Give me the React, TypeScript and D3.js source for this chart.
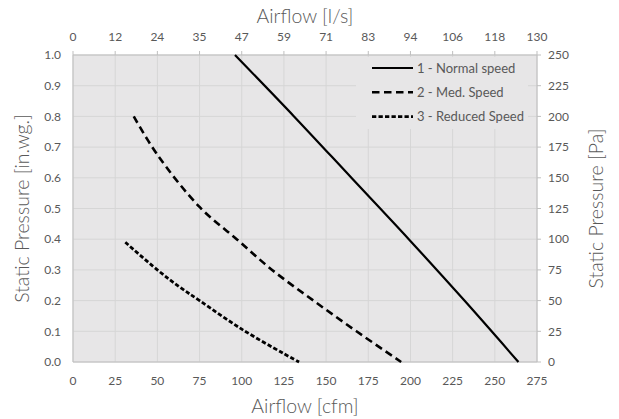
import React from "react";
import * as d3 from "d3";

const cfmTicks = [0, 25, 50, 75, 100, 125, 150, 175, 200, 225, 250, 275];
const lsLabels = ["0", "12", "24", "35", "47", "59", "71", "83", "94", "106", "118", "130"];
const inwgTicks = [0, 0.1, 0.2, 0.3, 0.4, 0.5, 0.6, 0.7, 0.8, 0.9, 1.0];
const paLabels = ["0", "25", "50", "75", "100", "125", "150", "175", "200", "225", "250"];

const normalCfm = [96, 131, 165, 199, 232, 264];
const normalP = [1.0, 0.8, 0.6, 0.4, 0.2, 0.0];
const medCfm = [36, 50, 75, 97, 118, 142.5, 168, 194.5];
const medP = [0.8, 0.675, 0.505, 0.4, 0.3, 0.2, 0.1, 0.0];
const redCfm = [31, 50, 63, 75, 100, 125, 134];
const redP = [0.39, 0.3, 0.245, 0.2, 0.107, 0.027, 0.0];

const seriesNames = ["1 - Normal speed", "2 - Med. Speed", "3 - Reduced Speed"];
const dashes = ["none", "7.5,4.5", "4.3,2.2"];

const W = 619, H = 419;
const L = 73, R = 537, T = 55, B = 362;
const font = "Lato, 'Open Sans', sans-serif";
const grey = "#595959";

export default function App() {
  const x = d3.scaleLinear().domain([0, 275]).range([L, R]);
  const y = d3.scaleLinear().domain([0, 1]).range([B, T]);
  const line = d3.line<[number, number]>().x(d => x(d[0])).y(d => y(d[1])).curve(d3.curveCatmullRom.alpha(0.5));
  const series = [
    d3.zip(normalCfm, normalP) as [number, number][],
    d3.zip(medCfm, medP) as [number, number][],
    d3.zip(redCfm, redP) as [number, number][],
  ];
  const widths = [2.2, 2.6, 2.8];
  return (
    <svg width={W} height={H} style={{ position: "absolute", left: 0, top: 0, background: "#fff" }} fontFamily={font}>
      <rect x={L} y={T} width={R - L} height={B - T} fill="#e7e6e7" />
      {cfmTicks.map(t => (
        <line key={"gx" + t} x1={x(t)} x2={x(t)} y1={T} y2={B} stroke="#d6d6d6" strokeWidth={1} />
      ))}
      {inwgTicks.map(t => (
        <line key={"gy" + t} x1={L} x2={R} y1={y(t)} y2={y(t)} stroke="#d6d6d6" strokeWidth={1} />
      ))}
      <line x1={L} x2={L} y1={T} y2={B} stroke="#bfbfbf" />
      <line x1={L} x2={R} y1={B} y2={B} stroke="#bfbfbf" />
      <line x1={L} x2={R} y1={T} y2={T} stroke="#bfbfbf" />
      <line x1={R} x2={R} y1={T} y2={B} stroke="#bfbfbf" />
      {cfmTicks.map(t => (
        <line key={"tt" + t} x1={x(t)} x2={x(t)} y1={T - 4} y2={T} stroke="#bfbfbf" />
      ))}
      {inwgTicks.map(t => (
        <line key={"rt" + t} x1={R} x2={R + 4} y1={y(t)} y2={y(t)} stroke="#bfbfbf" />
      ))}
      <rect x={356} y={57} width={172} height={72} fill="#e7e6e7" />
      {series.map((s, i) => (
        <path key={"s" + i} d={line(s) || ""} fill="none" stroke="#000" strokeWidth={widths[i]} strokeDasharray={dashes[i]} />
      ))}
      {seriesNames.map((n, i) => (
        <g key={"lg" + i}>
          <line x1={372} x2={413} y1={68 + i * 24.3} y2={68 + i * 24.3} stroke="#000" strokeWidth={widths[i]} strokeDasharray={dashes[i]} />
          <text x={417} y={68 + i * 24.3} dy="0.35em" fontSize={13} fill={grey}>{n}</text>
        </g>
      ))}
      {cfmTicks.map(t => (
        <text key={"bl" + t} x={x(t)} y={381} dy="0.35em" textAnchor="middle" fontSize={12} fill={grey}>{t}</text>
      ))}
      {cfmTicks.map((t, i) => (
        <text key={"tl" + t} x={x(t)} y={37} dy="0.35em" textAnchor="middle" fontSize={12} fill={grey}>{lsLabels[i]}</text>
      ))}
      {inwgTicks.map(t => (
        <text key={"ll" + t} x={61} y={y(t)} dy="0.35em" textAnchor="end" fontSize={12} fill={grey}>{t.toFixed(1)}</text>
      ))}
      {inwgTicks.map((t, i) => (
        <text key={"rl" + t} x={548} y={y(t)} dy="0.35em" textAnchor="start" fontSize={12} fill={grey}>{paLabels[i]}</text>
      ))}
      <text x={305} y={16} dy="0.35em" textAnchor="middle" fontSize={19.5} fontWeight={300} fill={grey}>Airflow [l/s]</text>
      <text x={305} y={406} dy="0.35em" textAnchor="middle" fontSize={19.5} fontWeight={300} fill={grey}>Airflow [cfm]</text>
      <text transform={`translate(22,${(T + B) / 2}) rotate(-90)`} dy="0.35em" textAnchor="middle" fontSize={19.5} fontWeight={300} fill={grey}>Static Pressure [in.wg.]</text>
      <text transform={`translate(596,${(T + B) / 2}) rotate(-90)`} dy="0.35em" textAnchor="middle" fontSize={19.5} fontWeight={300} fill={grey}>Static Pressure [Pa]</text>
    </svg>
  );
}
